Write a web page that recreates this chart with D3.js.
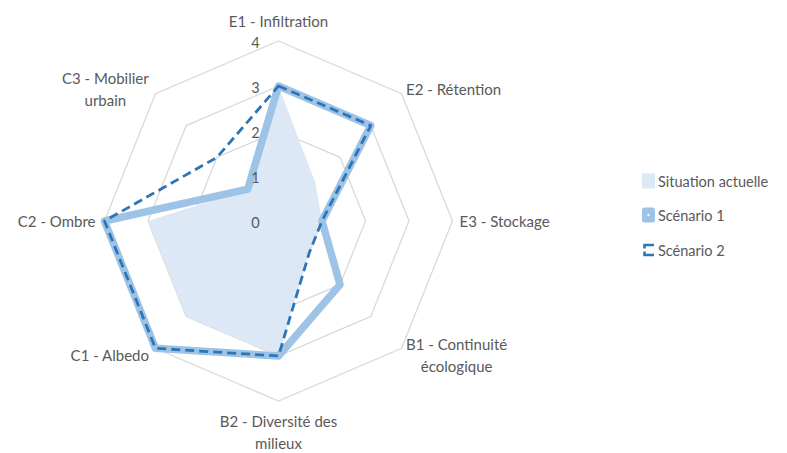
<!DOCTYPE html>
<html>
<head>
<meta charset="utf-8">
<script src="https://cdn.jsdelivr.net/npm/d3@7"></script>
<style>
  html, body { margin: 0; padding: 0; background: #fff; }
  svg { display: block; }
  text { font-family: Lato, "Open Sans", sans-serif; fill: #595959; }
</style>
</head>
<body>
<svg id="chart" width="787" height="453"></svg>
<script>
// ---- data ----
const categories = [
  ["E1 - Infiltration"],
  ["E2 - Rétention"],
  ["E3 - Stockage"],
  ["B1 - Continuité", "écologique"],
  ["B2 - Diversité des", "milieux"],
  ["C1 - Albedo"],
  ["C2 - Ombre"],
  ["C3 - Mobilier", "urbain"]
];
const seriesNames = ["Situation actuelle", "Scénario 1", "Scénario 2"];
const situationActuelle = [3, 1.2, 1, 1, 3, 3, 3, 1];
const scenario1 = [3, 3, 1, 2, 3, 4, 4, 1];
const scenario2 = [3, 3, 1, 1, 3, 4, 4, 2];
const tickValues = [0, 1, 2, 3, 4];

// ---- layout ----
const svg = d3.select("#chart");
const cx = 278.5, cy = 221;
const rx = d3.scaleLinear().domain([0, 4]).range([0, 174]);
const ry = d3.scaleLinear().domain([0, 4]).range([0, 180]);
const n = categories.length;
const angle = d3.scaleLinear().domain([0, n]).range([0, 2 * Math.PI]);
const px = (i, v) => cx + rx(v) * Math.sin(angle(i));
const py = (i, v) => cy - ry(v) * Math.cos(angle(i));
const polyPath = vals => d3.line().curve(d3.curveLinearClosed)
  .x((v, i) => px(i, v)).y((v, i) => py(i, v))(vals);

// grid rings
svg.append("g").selectAll("path")
  .data(tickValues.filter(t => t > 0))
  .join("path")
  .attr("d", t => polyPath(d3.range(n).map(() => t)))
  .attr("fill", "none")
  .attr("stroke", "#d9d9d9")
  .attr("stroke-width", 1.3);

// Situation actuelle (area)
svg.append("path")
  .attr("d", polyPath(situationActuelle))
  .attr("fill", "#dce8f5");

// Scénario 1 (thick line)
svg.append("path")
  .attr("d", polyPath(scenario1))
  .attr("fill", "none")
  .attr("stroke", "#9dc3e6")
  .attr("stroke-width", 7.5)
  .attr("stroke-linejoin", "round");

// Scénario 2 (dashed)
svg.append("path")
  .attr("d", polyPath(scenario2))
  .attr("fill", "none")
  .attr("stroke", "#2e75b6")
  .attr("stroke-width", 2.8)
  .attr("stroke-dasharray", "9,5")
  .attr("stroke-linejoin", "round");

// tick labels
svg.append("g").selectAll("text")
  .data(tickValues)
  .join("text")
  .attr("x", cx - 23)
  .attr("y", t => cy - ry(t) + 1.5)
  .attr("text-anchor", "middle")
  .attr("dominant-baseline", "central")
  .attr("font-size", 14.5)
  .text(t => t);

// category labels
const lineH = 22;
categories.forEach((lines, i) => {
  const a = angle(i), s = Math.sin(a), c = Math.cos(a);
  const vx = px(i, 4), vy = py(i, 4);
  const g = svg.append("g");
  lines.forEach((l, k) => {
    g.append("text")
      .attr("x", 0)
      .attr("y", (k - (lines.length - 1) / 2) * lineH)
      .attr("text-anchor", "middle")
      .attr("dominant-baseline", "central")
      .attr("font-size", 15)
      .text(l);
  });
  const w = g.node().getBBox().width;
  const h = lines.length * lineH;
  let x, y;
  if (s > 0.1) x = vx + (Math.abs(c) < 0.1 ? 7 : 4.5) + w / 2;
  else if (s < -0.1) x = vx - (Math.abs(c) < 0.1 ? 9 : 6.5) - w / 2;
  else x = vx;
  if (Math.abs(s) < 0.1) y = c > 0 ? vy - 9 - h / 2 : vy + 9 + h / 2;
  else if (c > 0.1) y = vy - 5;
  else if (c < -0.1) y = vy + 7;
  else y = vy;
  g.attr("transform", `translate(${x},${y})`);
});

// legend
const legendX = 642, legendY = [181, 215, 250];
const lg = svg.append("g");
seriesNames.forEach((name, k) => {
  const y = legendY[k];
  if (k === 0) {
    lg.append("rect").attr("x", legendX).attr("y", y - 7.5).attr("width", 13).attr("height", 15)
      .attr("fill", "#dce8f5");
  } else if (k === 1) {
    lg.append("rect").attr("x", legendX).attr("y", y - 7.5).attr("width", 13).attr("height", 15)
      .attr("rx", 2.5).attr("fill", "#9dc3e6");
    lg.append("rect").attr("x", legendX + 5.5).attr("y", y - 1).attr("width", 2).attr("height", 2)
      .attr("fill", "#fff");
  } else {
    lg.append("path")
      .attr("d", `M${legendX + 12},${y - 5} H${legendX + 2.5} V${y - 1.5} M${legendX + 2.5},${y + 1.5} V${y + 5} H${legendX + 12}`)
      .attr("fill", "none").attr("stroke", "#2e75b6").attr("stroke-width", 2.6);
  }
  lg.append("text")
    .attr("x", legendX + 16)
    .attr("y", y)
    .attr("dominant-baseline", "central")
    .attr("font-size", 14.5)
    .text(name);
});
</script>
</body>
</html>
